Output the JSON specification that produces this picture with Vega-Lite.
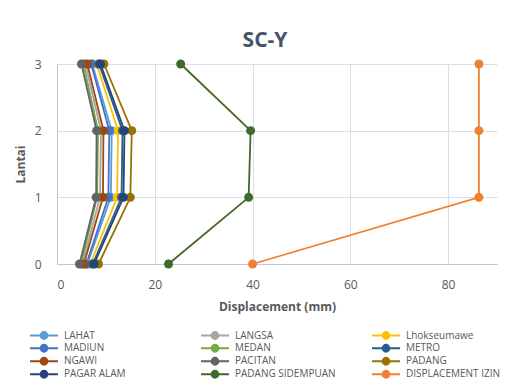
{
  "$schema": "https://vega.github.io/schema/vega-lite/v6.json",
  "width": 440,
  "height": 200,
  "autosize": {"type": "none"},
  "padding": {"left": 57, "top": 64, "right": 14, "bottom": 118},
  "background": "white",
  "title": {"text": "SC-Y", "fontSize": 21, "fontWeight": "bold", "color": "#44546A", "font": "Open Sans", "anchor": "middle", "dx": -12, "offset": 7},
  "data": {"values": [
    {"s": "LAHAT", "f": 0, "d": 6.2}, {"s": "LAHAT", "f": 1, "d": 11.0}, {"s": "LAHAT", "f": 2, "d": 11.2}, {"s": "LAHAT", "f": 3, "d": 7.2},
    {"s": "LANGSA", "f": 0, "d": 5.2}, {"s": "LANGSA", "f": 1, "d": 8.8}, {"s": "LANGSA", "f": 2, "d": 9.0}, {"s": "LANGSA", "f": 3, "d": 5.8},
    {"s": "Lhokseumawe", "f": 0, "d": 6.8}, {"s": "Lhokseumawe", "f": 1, "d": 12.3}, {"s": "Lhokseumawe", "f": 2, "d": 12.5}, {"s": "Lhokseumawe", "f": 3, "d": 8.1},
    {"s": "MADIUN", "f": 0, "d": 6.0}, {"s": "MADIUN", "f": 1, "d": 10.5}, {"s": "MADIUN", "f": 2, "d": 10.7}, {"s": "MADIUN", "f": 3, "d": 7.0},
    {"s": "MEDAN", "f": 0, "d": 4.9}, {"s": "MEDAN", "f": 1, "d": 8.2}, {"s": "MEDAN", "f": 2, "d": 8.4}, {"s": "MEDAN", "f": 3, "d": 5.4},
    {"s": "METRO", "f": 0, "d": 7.3}, {"s": "METRO", "f": 1, "d": 13.2}, {"s": "METRO", "f": 2, "d": 13.4}, {"s": "METRO", "f": 3, "d": 8.6},
    {"s": "NGAWI", "f": 0, "d": 5.5}, {"s": "NGAWI", "f": 1, "d": 9.4}, {"s": "NGAWI", "f": 2, "d": 9.5}, {"s": "NGAWI", "f": 3, "d": 6.2},
    {"s": "PACITAN", "f": 0, "d": 4.6}, {"s": "PACITAN", "f": 1, "d": 8.0}, {"s": "PACITAN", "f": 2, "d": 8.1}, {"s": "PACITAN", "f": 3, "d": 5.0},
    {"s": "PADANG", "f": 0, "d": 8.5}, {"s": "PADANG", "f": 1, "d": 15.0}, {"s": "PADANG", "f": 2, "d": 15.3}, {"s": "PADANG", "f": 3, "d": 9.6},
    {"s": "PAGAR ALAM", "f": 0, "d": 7.6}, {"s": "PAGAR ALAM", "f": 1, "d": 13.6}, {"s": "PAGAR ALAM", "f": 2, "d": 13.8}, {"s": "PAGAR ALAM", "f": 3, "d": 8.9},
    {"s": "PADANG SIDEMPUAN", "f": 0, "d": 22.8}, {"s": "PADANG SIDEMPUAN", "f": 1, "d": 39.2}, {"s": "PADANG SIDEMPUAN", "f": 2, "d": 39.6}, {"s": "PADANG SIDEMPUAN", "f": 3, "d": 25.3},
    {"s": "DISPLACEMENT IZIN", "f": 0, "d": 40.0}, {"s": "DISPLACEMENT IZIN", "f": 1, "d": 86.3}, {"s": "DISPLACEMENT IZIN", "f": 2, "d": 86.3}, {"s": "DISPLACEMENT IZIN", "f": 3, "d": 86.3}
  ]},
  "mark": {"type": "line", "strokeWidth": 1.8, "point": {"filled": true, "size": 80, "opacity": 1}},
  "encoding": {
    "x": {"field": "d", "type": "quantitative", "title": "Displacement (mm)",
      "scale": {"domain": [0, 90], "nice": false},
      "axis": {"values": [0, 20, 40, 60, 80], "grid": true, "gridColor": "#D9DEE8", "domainColor": "#BFC6D4", "ticks": false, "labelFontSize": 12, "labelColor": "#595959", "labelFont": "Open Sans", "labelPadding": 15, "titleFontSize": 12, "titleFont": "Open Sans", "titleFontWeight": "bold", "titleColor": "#595959", "titlePadding": 11}},
    "y": {"field": "f", "type": "quantitative", "title": "Lantai",
      "scale": {"domain": [0, 3], "nice": false},
      "axis": {"values": [0, 1, 2, 3], "grid": true, "gridColor": "#D9DEE8", "domainColor": "#BFC6D4", "ticks": false, "labelFontSize": 12, "labelColor": "#595959", "labelFont": "Open Sans", "labelPadding": 16, "titleFontSize": 12, "titleFont": "Open Sans", "titleFontWeight": "bold", "titleColor": "#595959", "titlePadding": 7}},
    "color": {"field": "s", "type": "nominal", "sort": null,
      "scale": {
        "domain": ["LAHAT", "LANGSA", "Lhokseumawe", "MADIUN", "MEDAN", "METRO", "NGAWI", "PACITAN", "PADANG", "PAGAR ALAM", "PADANG SIDEMPUAN", "DISPLACEMENT IZIN"],
        "range": ["#5B9BD5", "#A5A5A5", "#FFC000", "#4472C4", "#70AD47", "#255E91", "#9E480E", "#636363", "#997300", "#264478", "#43682B", "#F07F30"]},
      "legend": {"title": null, "orient": "none", "direction": "horizontal", "legendX": -28, "legendY": 265, "columns": 3, "gridAlign": "all", "columnPadding": 35,
        "rowPadding": 0, "clipHeight": 12.5, "labelFontSize": 10, "labelColor": "#595959", "labelFont": "Open Sans", "labelOffset": 5,
        "symbolType": "M-1,0H1M-0.25,0a0.25,0.25 0 1,0 0.5,0a0.25,0.25 0 1,0 -0.5,0M-0.17,0a0.17,0.17 0 1,0 0.34,0a0.17,0.17 0 1,0 -0.34,0M-0.09,0a0.09,0.09 0 1,0 0.18,0a0.09,0.09 0 1,0 -0.18,0",
        "symbolSize": 784, "symbolStrokeWidth": 1.8}},
    "order": {"field": "f", "type": "quantitative"}
  },
  "config": {"view": {"stroke": null}}
}
